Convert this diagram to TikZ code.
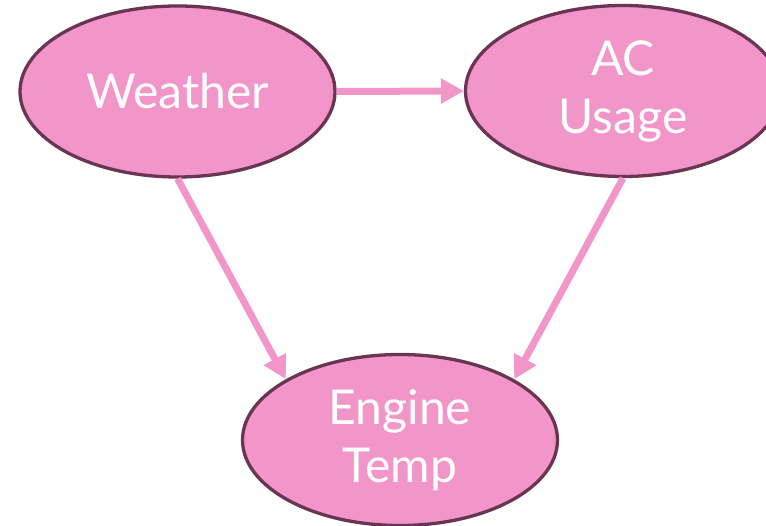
\documentclass[tikz,border=0pt]{standalone}
\usepackage{fontspec}
\setmainfont{Lato}
\usetikzlibrary{shapes.geometric,arrows.meta}
\definecolor{blobfill}{HTML}{F295C8}
\definecolor{blobedge}{HTML}{6A3453}
\definecolor{linkpink}{HTML}{F295C8}
\tikzset{
  blob/.style={ellipse, draw=blobedge, fill=blobfill, line width=3.3pt,
    minimum width=315pt, minimum height=171pt, inner sep=0pt,
    text=white, align=center, font=\fontsize{48}{58}\selectfont},
  link/.style={draw=linkpink, line width=7pt,
    -{Triangle[length=23pt,width=24pt]}}
}
\begin{document}
\begin{tikzpicture}[x=1pt,y=-1pt]
  \useasboundingbox (0,0) rectangle (766,526);
  \node[blob] (weather) at (177.5,91.5) {Weather};
  \node[blob] (ac) at (623,91) {AC\\Usage};
  \node[blob] (engine) at (400,440) {Engine\\Temp};
  \draw[link] (weather.east) -- (ac.west);
  \draw[link] (weather.south) -- (engine.152);
  \draw[link] (ac.south) -- (engine.28);
\end{tikzpicture}
\end{document}
